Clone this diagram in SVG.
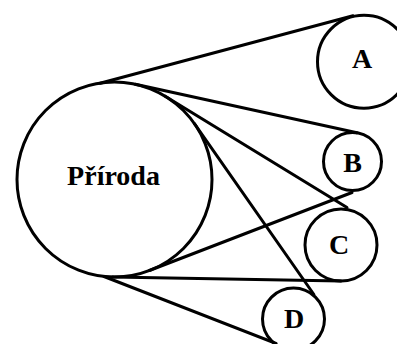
<svg xmlns="http://www.w3.org/2000/svg" width="397" height="344" viewBox="0 0 397 344">
<style>
.c{fill:none;stroke:#000;stroke-width:3}
.l{stroke:#000;stroke-width:3;stroke-linecap:round;fill:none}
.t{font-family:"Liberation Serif","Times New Roman",serif;font-weight:bold;font-size:28px;fill:#000;text-anchor:middle}
</style>
<rect width="397" height="344" fill="#fff"/>
<g id="connectors">
<line class="l" x1="100" y1="83.2" x2="353" y2="15.8"/>
<line class="l" x1="135.4" y1="84.3" x2="357" y2="132.8"/>
<line class="l" x1="165.2" y1="96.2" x2="347" y2="207.5"/>
<line class="l" x1="194.4" y1="123.6" x2="313.9" y2="294.5"/>
<line class="l" x1="149.4" y1="270.5" x2="352" y2="192.5"/>
<line class="l" x1="112.8" y1="277" x2="341" y2="281"/>
<line class="l" x1="104" y1="276.5" x2="276" y2="343.5"/>
</g>
<g id="priroda">
<circle class="c" cx="114.5" cy="179.5" r="97.5"/>
<text class="t" x="113.5" y="185">Příroda</text>
</g>
<g id="A">
<circle class="c" cx="364" cy="61.7" r="46.5"/>
<text class="t" x="362" y="68.3">A</text>
</g>
<g id="B">
<circle class="c" cx="352.5" cy="161.5" r="29"/>
<text class="t" x="352.7" y="172.3">B</text>
</g>
<g id="C">
<circle class="c" cx="341" cy="245" r="36"/>
<text class="t" x="339" y="254">C</text>
</g>
<g id="D">
<circle class="c" cx="293.5" cy="319" r="31"/>
<text class="t" x="294" y="327.5">D</text>
</g>
</svg>
